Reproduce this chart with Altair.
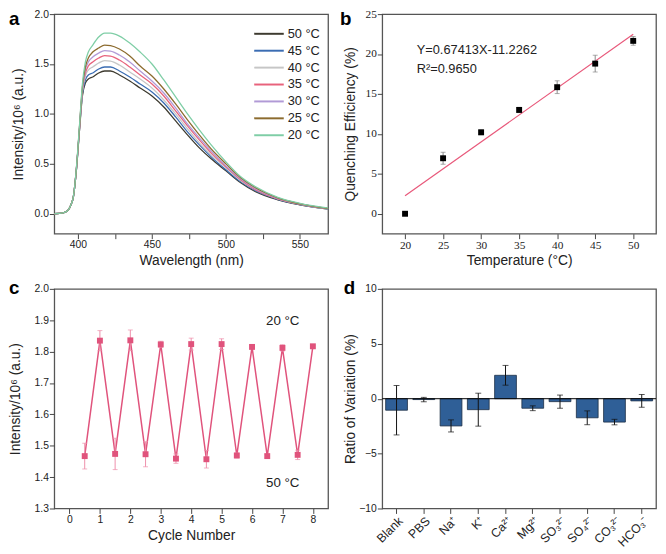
import altair as alt
import pandas as pd

FONT = "Liberation Sans"
SERIF = "Liberation Serif"

# ---------------- panel a : emission spectra ----------------
wavelength = [384, 390, 393, 395, 397, 399, 401, 403, 405, 407, 410, 414, 418, 422, 428,
              435, 442, 450, 458, 466, 474, 482, 490, 500, 510, 520, 535, 550, 570]
spec_50 = [0.00, 0.01, 0.03, 0.08, 0.18, 0.45, 0.83, 1.18, 1.31, 1.35, 1.37, 1.41, 1.43, 1.43, 1.39,
           1.33, 1.26, 1.18, 1.07, 0.93, 0.79, 0.66, 0.55, 0.43, 0.31, 0.22, 0.14, 0.09, 0.045]
spec_45 = [0.00, 0.01, 0.03, 0.08, 0.18, 0.45, 0.84, 1.20, 1.34, 1.39, 1.41, 1.45, 1.47, 1.47, 1.43,
           1.37, 1.30, 1.22, 1.11, 0.97, 0.82, 0.69, 0.57, 0.44, 0.32, 0.23, 0.145, 0.092, 0.046]
spec_40 = [0.00, 0.01, 0.03, 0.08, 0.18, 0.45, 0.84, 1.22, 1.38, 1.44, 1.47, 1.51, 1.535, 1.53, 1.49,
           1.42, 1.35, 1.26, 1.14, 1.00, 0.85, 0.71, 0.59, 0.46, 0.33, 0.24, 0.15, 0.095, 0.048]
spec_35 = [0.00, 0.01, 0.03, 0.08, 0.18, 0.46, 0.85, 1.24, 1.41, 1.48, 1.52, 1.56, 1.585, 1.58, 1.54,
           1.47, 1.39, 1.30, 1.18, 1.03, 0.88, 0.74, 0.61, 0.47, 0.34, 0.24, 0.15, 0.097, 0.05]
spec_30 = [0.00, 0.01, 0.03, 0.08, 0.18, 0.46, 0.86, 1.25, 1.44, 1.52, 1.57, 1.61, 1.635, 1.63, 1.59,
           1.52, 1.43, 1.33, 1.21, 1.06, 0.90, 0.76, 0.63, 0.48, 0.35, 0.25, 0.155, 0.10, 0.05]
spec_25 = [0.00, 0.01, 0.03, 0.08, 0.18, 0.46, 0.86, 1.27, 1.47, 1.56, 1.62, 1.66, 1.69, 1.685, 1.65,
           1.58, 1.48, 1.38, 1.25, 1.10, 0.94, 0.79, 0.65, 0.50, 0.36, 0.26, 0.16, 0.10, 0.052]
spec_20 = [0.00, 0.01, 0.03, 0.08, 0.18, 0.47, 0.88, 1.30, 1.52, 1.62, 1.69, 1.77, 1.81, 1.81, 1.78,
           1.71, 1.62, 1.50, 1.34, 1.17, 1.00, 0.84, 0.69, 0.52, 0.37, 0.27, 0.165, 0.105, 0.055]
temp_labels = ["50 °C", "45 °C", "40 °C", "35 °C", "30 °C", "25 °C", "20 °C"]
temp_colors = ["#3d3a2f", "#3b6db3", "#c6c6c6", "#e8627c", "#b19ad6", "#8c6b2e", "#7fcea6"]
spectra = [spec_50, spec_45, spec_40, spec_35, spec_30, spec_25, spec_20]

# ---------------- panel b : quenching efficiency ----------------
temp_b = [20, 25, 30, 35, 40, 45, 50]
qe = [0.0, 6.95, 10.2, 13.0, 15.85, 18.8, 21.65]
qe_err = [0.1, 0.75, 0.3, 0.33, 0.8, 1.05, 0.55]
fit_slope = 0.67413
fit_intercept = -11.2262
fit_x = [20, 50]

# ---------------- panel c : cycling ----------------
cycle = [0.5, 1, 1.5, 2, 2.5, 3, 3.5, 4, 4.5, 5, 5.5, 6, 6.5, 7, 7.5, 8]
cyc_int = [1.467, 1.835, 1.474, 1.836, 1.473, 1.823, 1.459, 1.824,
           1.457, 1.824, 1.469, 1.815, 1.467, 1.812, 1.471, 1.817]
cyc_err = [0.041, 0.032, 0.05, 0.033, 0.04, 0.01, 0.015, 0.019,
           0.028, 0.017, 0.008, 0.005, 0.005, 0.01, 0.015, 0.003]

# ---------------- panel d : interference ----------------
ions = ["Blank", "PBS", "Na⁺", "K⁺", "Ca²⁺", "Mg²⁺", "SO₃²⁻", "SO₄²⁻", "CO₃²⁻", "HCO₃⁻"]
ratio = [-1.05, -0.08, -2.48, -1.0, 2.13, -0.87, -0.27, -1.74, -2.13, -0.2]
ratio_err = [2.25, 0.2, 0.55, 1.5, 0.9, 0.22, 0.6, 0.63, 0.25, 0.58]

W, H = 278, 223
TXT = "#222222"
TITLE_Y = 20

rows = []
for lab, vals in zip(temp_labels, spectra):
    for w, v in zip(wavelength, vals):
        rows.append({"wl": w, "I": v, "T": lab})
df_a = pd.DataFrame(rows)
df_leg = pd.DataFrame({"T": temp_labels})

df_b = pd.DataFrame({"t": temp_b, "q": qe, "lo": [a - b for a, b in zip(qe, qe_err)],
                     "hi": [a + b for a, b in zip(qe, qe_err)]})
df_fit = pd.DataFrame({"t": fit_x, "q": [fit_slope * x + fit_intercept for x in fit_x]})
df_c = pd.DataFrame({"n": cycle, "v": cyc_int, "lo": [a - b for a, b in zip(cyc_int, cyc_err)],
                     "hi": [a + b for a, b in zip(cyc_int, cyc_err)]})
df_d = pd.DataFrame({"ion": ions, "r": ratio, "lo": [a - b for a, b in zip(ratio, ratio_err)],
                     "hi": [a + b for a, b in zip(ratio, ratio_err)]})


def panel_label(letter, x, y):
    return alt.Chart(pd.DataFrame({"t": [letter]})).mark_text(
        fontSize=19, fontWeight="bold", align="left", baseline="alphabetic", color="black"
    ).encode(text="t:N", x=alt.value(x), y=alt.value(y))


def text_layer(txt, x, y, size=13):
    return alt.Chart(pd.DataFrame({"t": [txt]})).mark_text(
        fontSize=size, align="left", baseline="middle", color=TXT
    ).encode(text="t:N", x=alt.value(x), y=alt.value(y))


# ---- a ----
color_a = alt.Scale(domain=temp_labels, range=temp_colors)
xa = alt.X("wl:Q", scale=alt.Scale(domain=[384, 569], nice=False, zero=False),
           axis=alt.Axis(title="Wavelength (nm)", values=[400, 425, 450, 475, 500, 525, 550],
                         labelExpr="datum.value % 50 == 0 ? datum.label : ''",
                         titleX=W / 2, titleY=TITLE_Y))
ya = alt.Y("I:Q", scale=alt.Scale(domain=[-0.2, 2.0], nice=False, zero=False),
           axis=alt.Axis(title="Intensity/10⁶ (a.u.)", values=[0, 0.5, 1, 1.5, 2], format=".1f",
                         labelOverlap=False, titleX=-29, titleY=H / 2))
lines_a = alt.Chart(df_a).mark_line(interpolate="monotone", strokeWidth=1.3, clip=True).encode(
    x=xa, y=ya, color=alt.Color("T:N", scale=color_a, legend=None))
leg_y = alt.Y("T:N", sort=temp_labels, axis=None,
              scale=alt.Scale(type="point", range=[20, 123], padding=0))
leg_lines = alt.Chart(df_leg).mark_rule(strokeWidth=2).encode(
    x=alt.value(203), x2=alt.value(233), y=leg_y,
    color=alt.Color("T:N", scale=color_a, legend=None))
leg_text = alt.Chart(df_leg).mark_text(fontSize=13, align="left", baseline="middle", color=TXT).encode(
    x=alt.value(237), y=leg_y, text="T:N")
pa = alt.layer(lines_a, leg_lines, leg_text, panel_label("a", -46, 11)).resolve_scale(
    y="independent").properties(width=W, height=H)

# ---- b ----
xb_axis = alt.Axis(title="Temperature (°C)", values=[20, 25, 30, 35, 40, 45, 50],
                   labelFont=SERIF, labelFontSize=11.5, titleX=W / 2, titleY=TITLE_Y)
yb_axis = alt.Axis(title="Quenching Efficiency (%)", values=[0, 5, 10, 15, 20, 25],
                   labelFont=SERIF, labelFontSize=11.5, labelOverlap=False,
                   titleX=-25, titleY=H / 2)
xb_scale = alt.Scale(domain=[17, 53], nice=False, zero=False)
yb_scale = alt.Scale(domain=[-2.5, 25], nice=False, zero=False)
fit_b = alt.Chart(df_fit).mark_line(color="#e8587a", strokeWidth=1.2).encode(
    x=alt.X("t:Q", scale=xb_scale, axis=xb_axis), y=alt.Y("q:Q", scale=yb_scale, axis=yb_axis))
err_b = alt.Chart(df_b).mark_rule(color="#888888", strokeWidth=1).encode(
    x="t:Q", y="lo:Q", y2="hi:Q")
caps_lo_b = alt.Chart(df_b).mark_tick(color="#888888", orient="horizontal", size=5, thickness=1).encode(
    x="t:Q", y="lo:Q")
caps_hi_b = alt.Chart(df_b).mark_tick(color="#888888", orient="horizontal", size=5, thickness=1).encode(
    x="t:Q", y="hi:Q")
pts_b = alt.Chart(df_b).mark_square(size=36, color="black", opacity=1).encode(x="t:Q", y="q:Q")
pb = alt.layer(fit_b, err_b, caps_lo_b, caps_hi_b, pts_b,
               text_layer("Y=0.67413X-11.2262", 35, 37),
               text_layer("R²=0.9650", 35, 56),
               panel_label("b", -43, 11)).properties(width=W, height=H)

# ---- c ----
PINK = "#e0537c"
xc_axis = alt.Axis(title="Cycle Number", values=list(range(0, 9)), titleX=W / 2, titleY=TITLE_Y)
yc_axis = alt.Axis(title="Intensity/10⁶ (a.u.)", values=[1.3, 1.4, 1.5, 1.6, 1.7, 1.8, 1.9, 2.0],
                   format=".1f", labelOverlap=False, titleX=-32, titleY=H / 2)
xc_scale = alt.Scale(domain=[-0.5, 8.5], nice=False, zero=False)
yc_scale = alt.Scale(domain=[1.3, 2.0], nice=False, zero=False)
xc = alt.X("n:Q", scale=xc_scale, axis=xc_axis)
line_c = alt.Chart(df_c).mark_line(color=PINK, strokeWidth=1.5).encode(
    x=xc, y=alt.Y("v:Q", scale=yc_scale, axis=yc_axis))
err_c = alt.Chart(df_c).mark_rule(color="#ee8fab", strokeWidth=1).encode(
    x=xc, y=alt.Y("lo:Q", scale=yc_scale, axis=yc_axis), y2="hi:Q")
caps_lo_c = alt.Chart(df_c).mark_tick(color="#ee8fab", orient="horizontal", size=5, thickness=1).encode(
    x=xc, y=alt.Y("lo:Q", scale=yc_scale, axis=yc_axis))
caps_hi_c = alt.Chart(df_c).mark_tick(color="#ee8fab", orient="horizontal", size=5, thickness=1).encode(
    x=xc, y=alt.Y("hi:Q", scale=yc_scale, axis=yc_axis))
pts_c = alt.Chart(df_c).mark_square(size=36, color=PINK, opacity=1).encode(
    x=xc, y=alt.Y("v:Q", scale=yc_scale, axis=yc_axis))
pc = alt.layer(line_c, err_c, caps_lo_c, caps_hi_c, pts_c,
               text_layer("20 °C", 215, 33, 13.5),
               text_layer("50 °C", 215, 197, 13.5),
               panel_label("c", -46, 5)).properties(width=W, height=H)

# ---- d ----
xd = alt.X("ion:N", sort=ions, scale=alt.Scale(paddingInner=0.2, paddingOuter=0.125),
           axis=alt.Axis(title=None, labelAngle=-45, labelFontSize=12.5))
yd_axis = alt.Axis(title="Ratio of Variation (%)", values=[-10, -5, 0, 5, 10],
                   labelOverlap=False, titleX=-25, titleY=H / 2)
yd_scale = alt.Scale(domain=[-10, 10], nice=False, zero=False)
bars_d = alt.Chart(df_d).mark_bar(color="#2f5f97", stroke="#1b2d44", strokeWidth=0.8).encode(
    x=xd, y=alt.Y("r:Q", scale=yd_scale, axis=yd_axis))
zero_d = alt.Chart(pd.DataFrame({"z": [0]})).mark_rule(color="black", strokeWidth=1).encode(y="z:Q")
err_d = alt.Chart(df_d).mark_rule(color="#111111", strokeWidth=1).encode(
    x=alt.X("ion:N", sort=ions), y="lo:Q", y2="hi:Q")
caps_lo_d = alt.Chart(df_d).mark_tick(color="#111111", orient="horizontal", size=6, thickness=1).encode(
    x=alt.X("ion:N", sort=ions), y="lo:Q")
caps_hi_d = alt.Chart(df_d).mark_tick(color="#111111", orient="horizontal", size=6, thickness=1).encode(
    x=alt.X("ion:N", sort=ions), y="hi:Q")
pd_ = alt.layer(bars_d, zero_d, err_d, caps_lo_d, caps_hi_d,
                panel_label("d", -39, 5)).properties(width=W, height=H)

chart = alt.concat(pa, pb, pc, pd_, columns=2, spacing={"row": 56, "column": 55},
                   bounds="flush").configure(
    padding={"top": -5, "left": 0, "right": 0, "bottom": 0}, font=FONT, background="white"
).configure_view(
    stroke="#555555", strokeWidth=1.3
).configure_axis(
    domain=False, grid=False, tickSize=5, tickColor="#444444", tickWidth=1,
    labelPadding=1, labelFont=FONT, labelFontSize=10.5, labelColor=TXT,
    titleFont=FONT, titleFontSize=14, titleFontWeight="normal", titleColor=TXT
)

chart.save("out.html", embed_options={"renderer": "svg", "actions": False})
